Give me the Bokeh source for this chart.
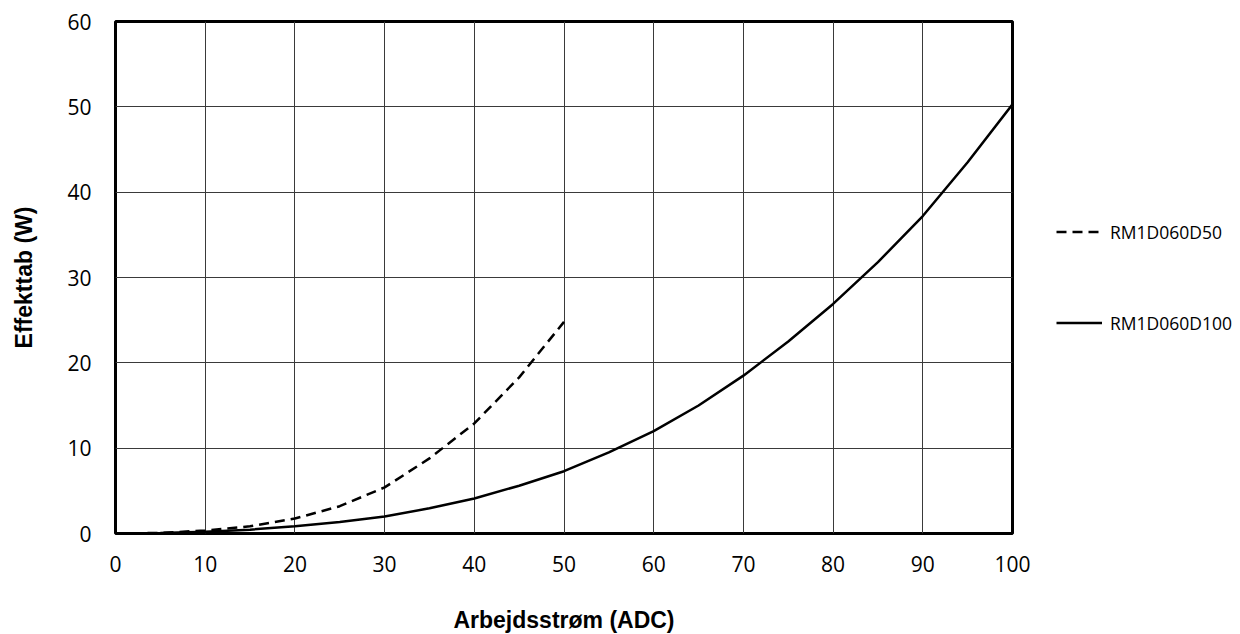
from bokeh.plotting import figure
from bokeh.models import Range1d, FixedTicker, Legend, LegendItem
from bokeh.embed import file_html
from bokeh.resources import INLINE

# Data
current_d50 = [0, 5, 10, 15, 20, 25, 30, 35, 40, 45, 50]
loss_d50 = [0, 0.07, 0.35, 0.85, 1.75, 3.2, 5.4, 8.8, 12.9, 18.3, 24.8]

current_d100 = [0, 5, 10, 15, 20, 25, 30, 35, 40, 45, 50, 55, 60, 65, 70, 75, 80, 85, 90, 95, 100]
loss_d100 = [0, 0.05, 0.2, 0.45, 0.85, 1.35, 2.0, 2.95, 4.1, 5.6, 7.3, 9.5, 12.0, 15.0, 18.5,
             22.5, 26.9, 31.8, 37.2, 43.5, 50.3]

x_ticks = [0, 10, 20, 30, 40, 50, 60, 70, 80, 90, 100]
y_ticks = [0, 10, 20, 30, 40, 50, 60]
series_names = ["RM1D060D50", "RM1D060D100"]
x_label = "Arbejdsstrøm (ADC)"
y_label = "Effekttab (W)"

p = figure(frame_width=897, frame_height=512, output_backend="svg", toolbar_location=None,
           x_range=Range1d(0, 100), y_range=Range1d(0, 60),
           min_border_left=115, min_border_top=21, min_border_bottom=85, min_border_right=10)

p.outline_line_color = "black"
p.outline_line_width = 3

for ax in (p.xaxis, p.yaxis):
    ax.axis_line_color = None
    ax.major_tick_line_color = None
    ax.minor_tick_line_color = None
    ax.major_label_text_font = "Open Sans"
    ax.major_label_text_font_size = "21px"
    ax.major_label_text_color = "black"
    ax.axis_label_text_font = "Liberation Sans"
    ax.axis_label_text_font_style = "bold"
    ax.axis_label_text_font_size = "23px"
    ax.axis_label_text_color = "black"

p.xaxis.ticker = FixedTicker(ticks=x_ticks)
p.yaxis.ticker = FixedTicker(ticks=y_ticks)
p.xaxis.major_label_standoff = 16
p.yaxis.major_label_standoff = 18
p.xaxis.axis_label = x_label
p.yaxis.axis_label = y_label
p.xaxis.axis_label_standoff = 32
p.yaxis.axis_label_standoff = 27

p.xgrid.ticker = FixedTicker(ticks=x_ticks)
p.ygrid.ticker = FixedTicker(ticks=y_ticks)
for g in (p.xgrid, p.ygrid):
    g.grid_line_color = "#3a3a3a"
    g.grid_line_width = 1

r1 = p.line(current_d50, loss_d50, line_color="black", line_width=2.5, line_dash="10 6")
r2 = p.line(current_d100, loss_d100, line_color="black", line_width=2.5)

legend = Legend(items=[LegendItem(label=series_names[0], renderers=[r1]),
                       LegendItem(label=series_names[1], renderers=[r2])],
                location="center_left")
legend.border_line_color = None
legend.background_fill_alpha = 0
legend.margin = 44
legend.padding = 0
legend.glyph_width = 46
legend.glyph_height = 20
legend.label_height = 20
legend.spacing = 67
legend.label_standoff = 8
legend.label_text_font = "Open Sans"
legend.label_text_font_size = "17.5px"
legend.label_text_color = "black"
p.add_layout(legend, "right")

open("out.html", "w").write(file_html(p, INLINE))
